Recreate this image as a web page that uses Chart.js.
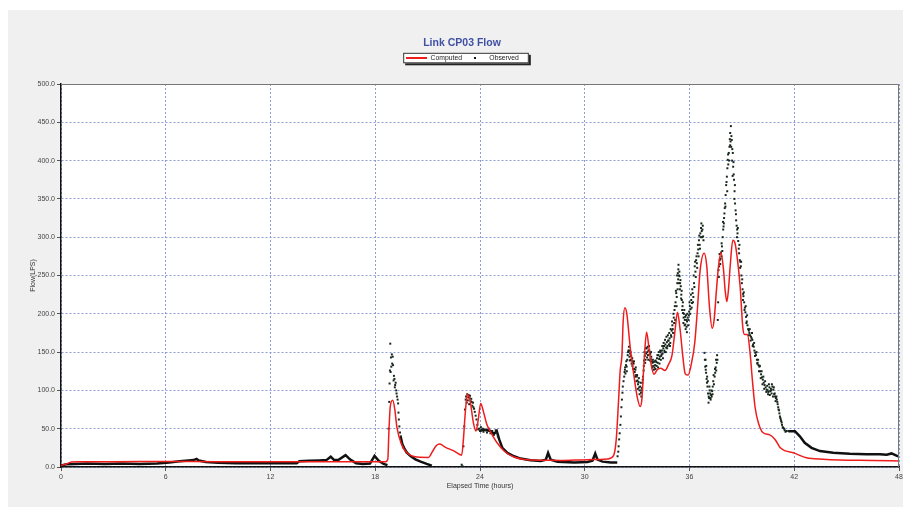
<!DOCTYPE html>
<html>
<head>
<meta charset="utf-8">
<script src="https://cdn.jsdelivr.net/npm/chart.js@4.4.1/dist/chart.umd.min.js"></script>
<style>
    html, body {
        margin: 0;
        padding: 0;
        background: #ffffff;
    }

    #wrap {
        width: 903px;
        height: 507px;
    }
</style>
</head>
<body>
<div id="wrap"><canvas id="chart" width="903" height="507"></canvas></div>
<script>
// Axis ticks
const hourTicks = [0, 6, 12, 18, 24, 30, 36, 42, 48]
const flowMax = 500

// Computed flow (hours, LPS)
const computedFlow = [
    [0, 2], [0.3, 4], [0.6, 6.5], [1, 7], [3, 7], [6, 7.2], [9, 7], [12, 7], [13.5, 7],
    [15, 7], [16.5, 7], [18, 7], [18.6, 7], [18.72, 10], [18.78, 45], [18.86, 79],
    [19.0, 87], [19.12, 75], [19.24, 52], [19.5, 30], [19.8, 19], [20.4, 13], [21.05, 12.5],
    [21.25, 19], [21.5, 28], [21.7, 30], [22.0, 26], [22.5, 21], [22.95, 15.5], [23.05, 36],
    [23.14, 66], [23.28, 95], [23.43, 87], [23.62, 58], [23.77, 47], [23.9, 62], [24.04, 83],
    [24.2, 72], [24.4, 55], [24.6, 46], [25.0, 31], [25.4, 20.6], [25.95, 13], [26.7, 9.6],
    [27.9, 8.8], [28.6, 8.5], [30.15, 9.6], [30.9, 9.8], [31.3, 10.5], [31.65, 15], [31.8, 35],
    [31.94, 88], [32.03, 126], [32.13, 146], [32.2, 190], [32.3, 208], [32.41, 200], [32.6, 157],
    [32.8, 122], [33.0, 92], [33.18, 79], [33.27, 88], [33.4, 138], [33.54, 176], [33.67, 157],
    [33.8, 134], [33.97, 121], [34.15, 127], [34.35, 129], [34.6, 126], [34.8, 134], [35.0, 146],
    [35.18, 180], [35.31, 202], [35.45, 182], [35.62, 144], [35.75, 122], [35.92, 120], [36.1, 134],
    [36.3, 162], [36.45, 205], [36.61, 257], [36.84, 279], [36.99, 262], [37.14, 210], [37.3, 181],
    [37.41, 192], [37.53, 227], [37.66, 262], [37.8, 280], [37.95, 257], [38.04, 231], [38.14, 216],
    [38.23, 231], [38.33, 262], [38.48, 296], [38.61, 292], [38.75, 270], [38.9, 236], [39.05, 183],
    [39.15, 173], [39.32, 173], [39.47, 149], [39.6, 114], [39.75, 79], [39.94, 58], [40.2, 45],
    [40.6, 42], [40.9, 36], [41.2, 25], [41.5, 21], [41.94, 18.6], [42.7, 12], [43.66, 10],
    [44.6, 9], [46.5, 8.5], [48, 7.8]
]

// Observed flow where the samples are dense enough to read as a solid trace (null = gap)
const observedBaseline = [
    [0, 2], [0.3, 3.5], [0.8, 4], [1.5, 4.5], [2.5, 4], [3.5, 4.5], [4.5, 4], [5.5, 4.5],
    [6.2, 6], [6.8, 7.5], [7.3, 8.5], [7.6, 9], [7.76, 10.5], [7.9, 8.5], [8.3, 6.5], [9, 5.5],
    [10, 5], [11, 5], [12, 5], [13, 5], [13.5, 5], [13.65, 7.5], [14.2, 8], [14.8, 8.5],
    [15.2, 9], [15.45, 13.5], [15.65, 9], [15.9, 9.5], [16.3, 15.5], [16.55, 10], [16.9, 5],
    [17.3, 4], [17.7, 4.5], [17.96, 14.5], [18.2, 8], [18.48, 4], [18.7, 2.5], [18.7, null],
    [19.45, 40], [19.55, 30], [19.65, 25], [19.8, 19], [20.0, 14.6], [20.3, 10], [20.6, 7],
    [20.95, 4], [21.24, 1.7], [21.24, null],
    [24.0, 47], [24.2, 49], [24.4, 48], [24.6, 47], [24.8, 43], [24.96, 47], [25.1, 36],
    [25.28, 25], [25.57, 18.4], [25.95, 14], [26.33, 11], [26.9, 8.8], [27.48, 7.9], [27.77, 9.6],
    [27.9, 18.4], [28.05, 9.6], [28.44, 7], [29.4, 6], [30.16, 6.6], [30.44, 8.3], [30.6, 17.5],
    [30.73, 9.6], [31.02, 7], [31.5, 6], [31.86, 6], [31.86, null],
    [41.66, 46.8], [42.04, 46.8], [42.32, 40], [42.6, 31.6], [42.99, 25], [43.47, 20.8],
    [44.23, 18.6], [45.18, 17.3], [46.14, 16.5], [46.9, 16.5], [47.3, 16], [47.57, 17.7], [47.95, 14]
]

// Observed samples, storm of hour 19
const observedStorm1 = [
    [18.76, 50], [18.8, 85], [18.82, 109], [18.84, 126], [18.86, 161], [18.88, 124], [18.9, 143],
    [18.92, 131], [18.95, 147], [18.97, 135], [19.0, 144], [19.02, 133], [19.05, 113], [19.07, 119],
    [19.1, 115], [19.12, 104], [19.14, 107], [19.17, 110], [19.2, 100], [19.22, 96], [19.25, 92],
    [19.28, 88], [19.31, 83], [19.33, 71], [19.35, 62], [19.38, 53], [19.42, 45], [19.47, 40],
    [19.52, 32], [19.58, 27], [19.62, 25], [19.7, 22], [19.8, 19]
]

// Observed samples, storm of hour 23
const observedStorm2 = [
    [22.95, 3], [23.0, 1], [23.05, 27], [23.1, 53], [23.14, 75], [23.18, 88], [23.2, 92],
    [23.24, 84], [23.27, 95], [23.3, 87], [23.33, 91], [23.35, 94], [23.38, 82], [23.4, 90],
    [23.43, 93], [23.46, 86], [23.5, 89], [23.52, 85], [23.56, 80], [23.6, 84], [23.62, 78],
    [23.66, 76], [23.7, 72], [23.75, 67], [23.8, 62], [23.85, 55], [23.9, 49], [23.95, 50],
    [24.0, 47], [24.05, 52], [24.1, 48], [24.15, 50], [24.2, 46], [24.3, 48], [24.4, 45],
    [24.5, 50], [24.6, 44], [24.7, 47], [24.8, 42], [24.9, 48], [24.96, 45], [25.02, 40]
]

// Observed samples, storm of hours 32 to 41
const observedStorm3 = [
    [31.88, 14], [31.92, 20], [31.94, 27], [31.97, 36], [32.0, 44], [32.04, 55], [32.07, 66],
    [32.1, 78], [32.13, 88], [32.16, 97], [32.18, 105], [32.22, 112], [32.26, 118], [32.28, 124],
    [32.3, 127], [32.33, 122], [32.36, 133], [32.4, 131], [32.43, 140], [32.46, 146], [32.5, 152],
    [32.53, 157], [32.56, 144], [32.6, 148], [32.63, 140], [32.66, 145], [32.7, 139], [32.73, 132],
    [32.76, 137], [32.8, 135], [32.83, 128], [32.86, 124], [32.9, 127], [32.94, 120], [32.98, 118],
    [33.02, 113], [33.05, 108], [33.08, 111], [33.12, 104], [33.15, 100], [33.18, 105], [33.22, 97],
    [33.25, 100], [33.27, 103], [33.3, 110], [33.34, 118], [33.37, 126], [33.4, 139], [33.44, 145],
    [33.48, 140], [33.52, 148], [33.55, 155], [33.58, 150], [33.62, 146], [33.65, 152], [33.68, 158],
    [33.72, 147], [33.75, 148], [33.78, 141], [33.81, 144], [33.84, 138], [33.88, 136], [33.92, 132],
    [33.95, 137], [33.99, 130], [34.03, 133], [34.06, 139], [34.1, 137], [34.14, 142], [34.18, 136],
    [34.22, 146], [34.26, 141], [34.3, 144], [34.34, 150], [34.38, 145], [34.42, 152], [34.46, 148],
    [34.5, 155], [34.54, 158], [34.58, 150], [34.62, 160], [34.66, 156], [34.7, 163], [34.74, 158],
    [34.78, 165], [34.82, 160], [34.86, 168], [34.9, 162], [34.94, 172], [34.98, 178], [35.02, 185],
    [35.06, 175], [35.1, 195], [35.14, 205], [35.18, 192], [35.2, 215], [35.24, 227], [35.27, 222],
    [35.3, 240], [35.33, 253], [35.35, 245], [35.37, 264], [35.4, 250], [35.43, 249], [35.46, 240],
    [35.5, 236], [35.53, 225], [35.56, 218], [35.6, 210], [35.63, 201], [35.66, 195], [35.7, 205],
    [35.73, 192], [35.76, 186], [35.8, 198], [35.83, 183], [35.86, 190], [35.9, 195], [35.94, 192],
    [35.98, 203], [36.02, 210], [36.06, 206], [36.1, 218], [36.14, 214], [36.18, 227], [36.22, 222],
    [36.26, 240], [36.3, 262], [36.34, 255], [36.38, 270], [36.42, 266], [36.46, 279], [36.5, 284],
    [36.54, 296], [36.58, 290], [36.62, 305], [36.66, 312], [36.7, 308], [36.74, 310], [36.78, 301],
    [36.8, 296], [36.86, 149], [36.88, 140], [36.9, 131], [36.93, 127], [36.95, 123], [36.98, 115],
    [37.0, 110], [37.03, 105], [37.06, 96], [37.09, 84], [37.12, 90], [37.15, 100], [37.18, 96],
    [37.21, 88], [37.24, 94], [37.27, 92], [37.3, 99], [37.33, 105], [37.36, 112], [37.4, 108],
    [37.44, 118], [37.47, 123], [37.5, 130], [37.53, 126], [37.56, 136], [37.6, 140], [37.62, 192],
    [37.64, 215], [37.66, 257], [37.7, 262], [37.73, 270], [37.76, 265], [37.8, 280], [37.83, 275],
    [37.86, 288], [37.9, 300], [37.93, 310], [37.95, 314], [37.98, 325], [38.0, 331], [38.02, 338],
    [38.04, 344], [38.07, 355], [38.1, 368], [38.14, 379], [38.17, 390], [38.19, 401], [38.22, 395],
    [38.25, 410], [38.29, 418], [38.31, 428], [38.33, 436], [38.35, 425], [38.37, 445], [38.4, 432],
    [38.42, 427], [38.45, 415], [38.48, 410], [38.5, 392], [38.53, 382], [38.55, 375], [38.58, 360],
    [38.61, 344], [38.64, 335], [38.67, 322], [38.7, 315], [38.73, 310], [38.75, 305], [38.79, 295],
    [38.84, 279], [38.88, 270], [38.91, 268], [38.94, 262], [38.97, 250], [39.0, 240], [39.04, 232],
    [39.07, 226], [39.09, 223], [39.13, 215], [39.17, 208], [39.2, 202], [39.24, 196], [39.28, 190],
    [39.32, 185], [39.36, 180], [39.4, 178], [39.43, 175], [39.47, 172], [39.52, 170], [39.56, 168],
    [39.6, 166], [39.64, 160], [39.68, 157], [39.72, 152], [39.77, 149], [39.81, 146], [39.86, 140],
    [39.9, 136], [39.95, 133], [40.0, 131], [40.05, 125], [40.1, 121], [40.15, 117], [40.2, 114],
    [40.25, 110], [40.3, 107], [40.36, 104], [40.42, 101], [40.48, 100], [40.52, 98], [40.58, 104],
    [40.62, 99], [40.66, 102], [40.7, 96], [40.75, 105], [40.8, 101], [40.85, 95], [40.9, 92],
    [40.95, 90], [41.0, 88], [41.05, 82], [41.1, 75], [41.15, 70], [41.2, 64], [41.25, 60],
    [41.3, 55], [41.37, 51], [41.45, 48], [41.55, 47], [41.66, 47]
]

// Second band of scattered readings in the same storm
const observedStorm3Spread = [
    [32.31, 130], [32.38, 138], [32.41, 125], [32.48, 150], [32.55, 152], [32.58, 139], [32.62, 150],
    [32.68, 135], [32.72, 142], [32.78, 128], [32.82, 138], [32.88, 118], [32.92, 130], [32.96, 112],
    [33.0, 120], [33.04, 102], [33.1, 116], [33.14, 95], [33.2, 110], [33.24, 92], [33.32, 114],
    [33.38, 132], [33.42, 150], [33.46, 136], [33.5, 155], [33.57, 143], [33.6, 157], [33.64, 140],
    [33.7, 152], [33.74, 139], [33.8, 150], [33.86, 130], [33.9, 140], [33.96, 127], [34.0, 138],
    [34.05, 128], [34.12, 132], [34.16, 146], [34.2, 130], [34.24, 150], [34.28, 135], [34.32, 152],
    [34.36, 140], [34.4, 147], [34.44, 158], [34.48, 142], [34.52, 162], [34.56, 152], [34.6, 166],
    [34.64, 150], [34.68, 170], [34.72, 155], [34.76, 172], [34.8, 165], [34.84, 175], [34.88, 158],
    [34.92, 180], [34.96, 170], [35.0, 190], [35.04, 180], [35.08, 200], [35.12, 188], [35.16, 210],
    [35.22, 230], [35.26, 210], [35.29, 250], [35.32, 232], [35.36, 258], [35.39, 240], [35.42, 255],
    [35.45, 232], [35.48, 244], [35.52, 220], [35.55, 230], [35.58, 205], [35.62, 215], [35.65, 188],
    [35.68, 200], [35.72, 185], [35.75, 196], [35.78, 180], [35.82, 192], [35.85, 176], [35.88, 200],
    [35.92, 185], [35.96, 198], [36.0, 215], [36.04, 200], [36.08, 225], [36.12, 208], [36.16, 232],
    [36.2, 215], [36.24, 250], [36.28, 235], [36.32, 268], [36.36, 248], [36.4, 275], [36.44, 260],
    [36.48, 290], [36.52, 275], [36.56, 302], [36.6, 285], [36.64, 300], [36.68, 318], [36.72, 300],
    [36.76, 315], [36.92, 140], [36.96, 132], [37.01, 118], [37.05, 112], [37.1, 92], [37.14, 105],
    [37.2, 90], [37.26, 100], [37.32, 95], [37.38, 120], [37.46, 128], [37.52, 140], [37.58, 146],
    [37.68, 248], [37.72, 278], [37.78, 272], [37.84, 292], [37.88, 282], [37.92, 320], [37.97, 318],
    [38.06, 340], [38.12, 372], [38.16, 360], [38.21, 408], [38.27, 400], [38.33, 420], [38.39, 418],
    [38.44, 400], [38.47, 380], [38.52, 398], [38.57, 350], [38.6, 368], [38.66, 330], [38.72, 300],
    [38.77, 312], [38.82, 285], [38.86, 290], [38.9, 260], [38.96, 268], [39.02, 245], [39.06, 218],
    [39.11, 228], [39.15, 205], [39.22, 210], [39.26, 188], [39.3, 198], [39.38, 172], [39.45, 180],
    [39.5, 165], [39.58, 175], [39.62, 158], [39.7, 162], [39.75, 145], [39.84, 150], [39.88, 135],
    [39.93, 140], [39.98, 125], [40.03, 132], [40.08, 116], [40.13, 125], [40.18, 108], [40.23, 118],
    [40.28, 102], [40.33, 112], [40.4, 98], [40.45, 106], [40.5, 95], [40.55, 108], [40.6, 94],
    [40.68, 100], [40.72, 108], [40.78, 92], [40.83, 104], [40.88, 96], [40.93, 86], [40.98, 92],
    [41.03, 85], [41.08, 78], [41.13, 74], [41.18, 66], [41.23, 62], [41.28, 58], [41.34, 52],
    [41.42, 50], [41.5, 46]
]

const toXY = (pairs) => pairs.map(([x, y]) => ({ x, y }))

// Legend swatches: a red stroke and a small dark dot
const lineSwatch = document.createElement('canvas')
lineSwatch.width = 21
lineSwatch.height = 2
lineSwatch.getContext('2d').fillStyle = '#ee1c1c'
lineSwatch.getContext('2d').fillRect(0, 0, 21, 2)

const dotSwatch = document.createElement('canvas')
dotSwatch.width = 2
dotSwatch.height = 2
dotSwatch.getContext('2d').fillStyle = '#111111'
dotSwatch.getContext('2d').fillRect(0, 0, 2, 2)

const panelPlugin = {
    id: 'panel',
    beforeDraw(chart) {
        const { ctx, chartArea: area, legend } = chart
        ctx.save()
        ctx.fillStyle = '#ffffff'
        ctx.fillRect(0, 0, chart.width, chart.height)
        ctx.fillStyle = '#f0f0f0'
        ctx.fillRect(8, 10, chart.width - 8, chart.height - 10)
        ctx.fillStyle = '#ffffff'
        ctx.fillRect(area.left, area.top, area.right - area.left, area.bottom - area.top)

        // framed legend with a drop shadow
        const boxes = legend.legendHitBoxes
        if (boxes.length) {
            const first = boxes[0]
            const last = boxes[boxes.length - 1]
            const x0 = first.left - 2
            const x1 = last.left + last.width + 10
            const cy = first.top + first.height / 2
            const y0 = cy - 5.5
            const y1 = cy + 5
            ctx.fillStyle = '#222222'
            ctx.fillRect(x0 + 2, y0 + 2, x1 - x0, y1 - y0)
            ctx.fillStyle = '#ffffff'
            ctx.fillRect(x0, y0, x1 - x0, y1 - y0)
            ctx.strokeStyle = '#333333'
            ctx.lineWidth = 1
            ctx.strokeRect(x0 + 0.5, y0 + 0.5, x1 - x0 - 1, y1 - y0 - 1)
        }
        ctx.restore()
    },
    afterDraw(chart) {
        const { ctx, chartArea: area } = chart
        ctx.save()
        ctx.strokeStyle = '#777777'
        ctx.lineWidth = 1
        ctx.beginPath()
        ctx.moveTo(area.left, area.top + 0.5)
        ctx.lineTo(area.right - 0.5, area.top + 0.5)
        ctx.lineTo(area.right - 0.5, area.bottom)
        ctx.stroke()
        ctx.restore()
    }
}

Chart.defaults.font.family = "'Liberation Sans', Arial, sans-serif"
Chart.defaults.color = '#444444'

new Chart(document.getElementById('chart'), {
    type: 'scatter',
    data: {
        datasets: [
            {
                label: 'Computed',
                type: 'line',
                data: toXY(computedFlow),
                borderColor: '#ee1c1c',
                borderWidth: 1.5,
                pointRadius: 0,
                cubicInterpolationMode: 'monotone',
                order: 0
            },
            {
                label: 'Observed',
                data: toXY([...observedStorm1, ...observedStorm2, ...observedStorm3, ...observedStorm3Spread]),
                pointStyle: 'rect',
                pointRadius: 1.4,
                pointBorderWidth: 0,
                backgroundColor: '#16261a',
                borderColor: '#16261a',
                order: 1
            },
            {
                label: 'Observed trace',
                type: 'line',
                data: toXY(observedBaseline),
                borderColor: '#111111',
                borderWidth: 2.5,
                pointRadius: 0,
                spanGaps: false,
                order: 2
            }
        ]
    },
    options: {
        responsive: false,
        animation: false,
        devicePixelRatio: 1,
        layout: { padding: { left: 21, right: 0, top: 0, bottom: 0 } },
        plugins: {
            title: {
                display: true,
                text: 'Link CP03 Flow',
                color: '#3f51a3',
                font: { size: 10.5, weight: 'bold' },
                padding: { top: 36.4, bottom: 3.9 }
            },
            legend: {
                display: true,
                position: 'top',
                weight: 1800,
                labels: {
                    usePointStyle: true,
                    pointStyleWidth: 22,
                    padding: 2,
                    color: '#222222',
                    font: { size: 6.8 },
                    generateLabels: () => [
                        { text: 'Computed', pointStyle: lineSwatch, fillStyle: '#ee1c1c', strokeStyle: '#ee1c1c', lineWidth: 0, hidden: false, datasetIndex: 0, fontColor: '#222222' },
                        { text: 'Observed', pointStyle: dotSwatch, fillStyle: '#111111', strokeStyle: '#111111', lineWidth: 0, hidden: false, datasetIndex: 1, fontColor: '#222222' }
                    ]
                }
            },
            // empty spacer below the legend
            subtitle: {
                display: true,
                text: '',
                padding: 0,
                font: { size: 12.3, lineHeight: 1 }
            },
            tooltip: { enabled: false }
        },
        scales: {
            x: {
                type: 'linear',
                min: hourTicks[0],
                max: hourTicks[hourTicks.length - 1],
                afterBuildTicks: (scale) => {
                    scale.ticks = hourTicks.map((v) => ({ value: v }))
                },
                afterFit: (scale) => {
                    scale.height = 40
                    scale.paddingLeft = 0
                    scale.paddingRight = 0
                },
                ticks: {
                    padding: 2,
                    font: { size: 7 },
                    color: '#444444',
                    maxRotation: 0
                },
                grid: {
                    color: '#8e9cd4',
                    tickColor: '#555555',
                    tickLength: 4,
                    lineWidth: 1
                },
                border: { color: '#111111', width: 1.5, dash: [2, 2] },
                title: {
                    display: true,
                    text: 'Elapsed Time (hours)',
                    color: '#333333',
                    font: { size: 7 },
                    padding: { top: 0, bottom: 16.5 }
                }
            },
            y: {
                type: 'linear',
                min: 0,
                max: flowMax,
                ticks: {
                    stepSize: 50,
                    padding: 2,
                    font: { size: 7 },
                    color: '#444444',
                    callback: (value) => value.toFixed(1)
                },
                afterFit: (scale) => {
                    scale.width = 40
                },
                grid: {
                    color: '#8e9cd4',
                    tickColor: '#555555',
                    tickLength: 4,
                    lineWidth: 1
                },
                border: { color: '#111111', width: 1.5, dash: [2, 2] },
                title: {
                    display: true,
                    text: 'Flow(LPS)',
                    color: '#333333',
                    font: { size: 7 },
                    padding: { top: 7.5, bottom: 0 }
                }
            }
        }
    },
    plugins: [panelPlugin]
})
</script>
</body>
</html>
